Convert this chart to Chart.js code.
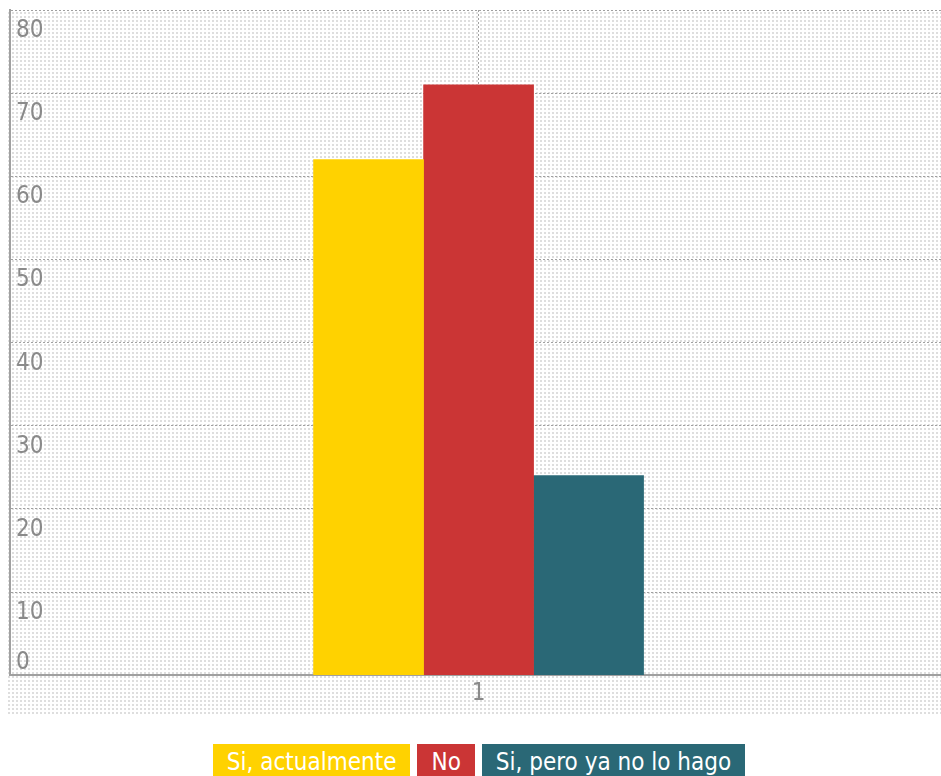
<!DOCTYPE html>
<html>
<head>
<meta charset="utf-8">
<script src="https://cdn.jsdelivr.net/npm/chart.js@4/dist/chart.umd.min.js"></script>
<style>
html,body{margin:0;padding:0;background:#fff;overflow:hidden}
#wrap{position:relative;width:958px;height:776px}
#grafico{position:absolute;left:0;top:0}
#leyenda{position:absolute;left:0;top:744px;width:958px;display:flex;justify-content:center;gap:7px}
#leyenda span{display:block;color:#fff;font-family:"Liberation Sans Narrow","DejaVu Sans Condensed",sans-serif;font-size:24px;line-height:36px;height:40px;padding:0 14px}
</style>
</head>
<body>
<div id="wrap">
<canvas id="grafico" width="958" height="720"></canvas>
<div id="leyenda"></div>
</div>
<script>
const series=['Si, actualmente','No','Si, pero ya no lo hago']
const colores=['#FFD200','#CB3535','#2A6876']
const xValores=[1]
const siActualmente=[62]
const no=[71]
const siPeroYaNo=[24]
const xTicks=[0,1,2]
const yTicks=[0,10,20,30,40,50,60,70,80]

const valores=[siActualmente,no,siPeroYaNo]
const fuente='"Liberation Sans Narrow","DejaVu Sans Condensed",sans-serif'

const datasets=series.map((nombre,i)=>({
    label:nombre,
    data:xValores.map((x,j)=>({x:x,y:valores[i][j]})),
    backgroundColor:colores[i],
    borderWidth:0,
    barThickness:110
}))

// fondo punteado
const fondo={
    id:'fondo',
    beforeDraw(chart){
        const ctx=chart.ctx
        const p=document.createElement('canvas')
        p.width=4
        p.height=4
        const pc=p.getContext('2d')
        pc.fillStyle='rgba(0,0,0,0.13)'
        pc.fillRect(0,0,2,2)
        ctx.save()
        ctx.fillStyle=ctx.createPattern(p,'repeat')
        ctx.fillRect(8,10,chart.width-8,704)
        ctx.restore()
    }
}

// etiquetas del eje y dentro del area
const etiquetasY={
    id:'etiquetasY',
    afterDraw(chart){
        const ctx=chart.ctx
        const y=chart.scales.y
        const left=chart.chartArea.left
        ctx.save()
        ctx.font='24px '+fuente
        ctx.fillStyle='#8a8a8a'
        ctx.textAlign='left'
        ctx.textBaseline='alphabetic'
        for(const t of yTicks){
            const py=y.getPixelForValue(t)
            ctx.fillText(String(t),left+6,t===0?py-6:py+27)
        }
        ctx.restore()
    }
}

new Chart(document.getElementById('grafico'),{
    type:'bar',
    data:{datasets:datasets},
    options:{
        responsive:false,
        animation:false,
        layout:{padding:{left:10,top:10,right:10,bottom:8}},
        plugins:{legend:{display:false},tooltip:{enabled:false}},
        scales:{
            x:{
                type:'linear',
                min:xTicks[0],
                max:xTicks[xTicks.length-1],
                offset:false,
                afterBuildTicks(s){s.ticks=xTicks.map(v=>({value:v}))},
                ticks:{
                    color:'#8a8a8a',
                    font:{family:fuente,size:24},
                    padding:4,
                    maxRotation:0,
                    callback:v=>v===0?'':String(v)
                },
                grid:{color:'#a0a0a0',drawTicks:false,offset:false},
                border:{display:true,color:'#a0a0a0',width:2,dash:[2,2]}
            },
            y:{
                min:yTicks[0],
                max:yTicks[yTicks.length-1],
                afterBuildTicks(s){s.ticks=yTicks.map(v=>({value:v}))},
                ticks:{display:false},
                grid:{color:'#a0a0a0',drawTicks:false},
                border:{display:true,color:'#a0a0a0',width:2,dash:[2,2]}
            }
        }
    },
    plugins:[fondo,etiquetasY]
})

const leyenda=document.getElementById('leyenda')
series.forEach((nombre,i)=>{
    const s=document.createElement('span')
    s.textContent=nombre
    s.style.background=colores[i]
    leyenda.append(s)
})
</script>
</body>
</html>
